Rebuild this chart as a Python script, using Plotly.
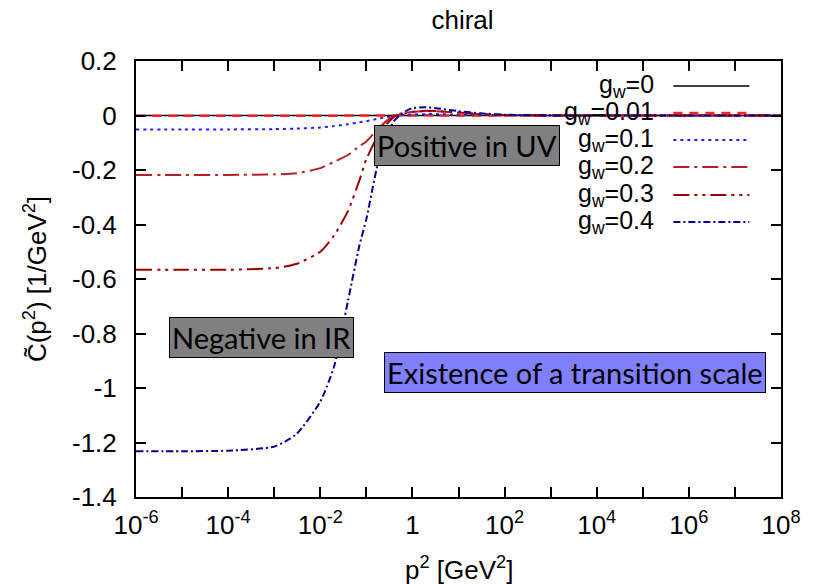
import plotly.graph_objects as go

# momentum grid p^2 [GeV^2]
p2 = [1e-6, 1e-5, 1e-4, 1e-3, 3e-3, 1e-2, 2e-2, 4e-2, 7e-2, 0.1, 0.2, 0.4, 0.7,
      1, 2, 4, 10, 30, 100, 1e3, 1e4, 1e6, 1e8]

# C~(p^2) for each coupling g_w
c_g000 = [0.0] * len(p2)
c_g001 = [-0.0006, -0.0006, -0.0006, -0.0006, -0.0006, -0.0005, -0.0005, -0.0004, -0.0003,
          -0.0002, -0.0001, 0.0, 0.0003, 0.0004, 0.0005, 0.0004, 0.0003, 0.0001, 0.0,
          0.0, 0.0, 0.0, 0.0]
c_g010 = [-0.051, -0.051, -0.051, -0.050, -0.048, -0.044, -0.039, -0.032, -0.025, -0.021,
          -0.010, -0.002, 0.002, 0.004, 0.005, 0.005, 0.003, 0.002, 0.001, 0.0, 0.0, 0.0, 0.0]
c_g020 = [-0.218, -0.218, -0.218, -0.216, -0.212, -0.193, -0.170, -0.145, -0.113, -0.095,
          -0.040, 0.000, 0.010, 0.013, 0.016, 0.015, 0.010, 0.005, 0.002, 0.0, 0.0, 0.0, 0.0]
c_g030 = [-0.566, -0.566, -0.566, -0.560, -0.545, -0.500, -0.440, -0.350, -0.240, -0.160,
          -0.060, -0.005, 0.008, 0.014, 0.017, 0.016, 0.011, 0.005, 0.002, 0.0, 0.0, 0.0, 0.0]
c_g040 = [-1.232, -1.232, -1.230, -1.215, -1.170, -1.050, -0.920, -0.680, -0.480, -0.380,
          -0.140, -0.020, 0.015, 0.027, 0.030, 0.025, 0.016, 0.008, 0.003, 0.0005, 0.0, 0.0, 0.0]

labels = ["0", "0.01", "0.1", "0.2", "0.3", "0.4"]
series = [c_g000, c_g001, c_g010, c_g020, c_g030, c_g040]
colors = ["#000000", "#ff2020", "#2020ff", "#b22222", "#9a0000", "#00008f"]
dashes = ["solid", "9px,7px", "3px,4px", "16px,5px,3px,5px",
          "16px,5px,3px,5px,3px,5px", "7px,3px,2px,3px"]
widths = [1.5, 2.5, 2, 2, 2, 2]

# x tick labels: every decade ticked, even decades labelled
x_tickvals = [10.0 ** k for k in range(-6, 9)]
x_ticktext = ["10<sup>-6</sup>", "", "10<sup>-4</sup>", "", "10<sup>-2</sup>", "", "1", "",
              "10<sup>2</sup>", "", "10<sup>4</sup>", "", "10<sup>6</sup>", "", "10<sup>8</sup>"]
y_tickvals = [0.2, 0.0, -0.2, -0.4, -0.6, -0.8, -1.0, -1.2, -1.4]
y_ticktext = ["0.2", "0", "-0.2", "-0.4", "-0.6", "-0.8", "-1", "-1.2", "-1.4"]

fig = go.Figure()
for lab, ys, col, dsh, w in zip(labels, series, colors, dashes, widths):
    fig.add_trace(go.Scatter(x=p2, y=ys, mode="lines", name="g_w=" + lab,
                             line=dict(color=col, dash=dsh, width=w, shape="spline", smoothing=0.6),
                             showlegend=False))

L, R, T, B = 136, 24, 61, 87
W, H = 813, 584
pw, ph = W - L - R, H - T - B


def px(x):
    return (x - L) / pw


def py(y):
    return (H - B - y) / ph


font_main = dict(family="Liberation Sans, Arial, sans-serif", size=26, color="black")
font_key = dict(family="Liberation Sans, Arial, sans-serif", size=25, color="black")
font_box = dict(family="Lato, sans-serif", size=29, color="black")

annotations = []
shapes = []
# key: text right-aligned, line sample to its right
key_y = [86, 113, 140, 167, 195, 222]
for lab, col, dsh, w, yy in zip(labels, colors, dashes, widths, key_y):
    annotations.append(dict(x=px(662), y=py(yy), xref="paper", yref="paper",
                            text="g<sub>w</sub>=" + lab, showarrow=False,
                            xanchor="right", yanchor="middle", font=font_key))
    shapes.append(dict(type="line", xref="paper", yref="paper",
                       x0=px(680), x1=px(757), y0=py(yy), y1=py(yy),
                       line=dict(color=col, dash=dsh, width=w)))

# text boxes
boxes = [("Positive in UV", 471.5, 145.5, "#808080"),
         ("Negative in IR", 263.5, 337.5, "#808080"),
         ("Existence of a transition scale", 580, 373, "#8080ff")]
for txt, bx, by, bg in boxes:
    annotations.append(dict(x=px(bx), y=py(by), xref="paper", yref="paper", text=txt,
                            showarrow=False, xanchor="center", yanchor="middle",
                            font=font_box, bgcolor=bg, bordercolor="#000000",
                            borderwidth=1, borderpad=2))

# x-axis title placed below the tick labels
annotations.append(dict(x=0.5, y=py(568), xref="paper", yref="paper",
                        text="p<sup>2</sup> [GeV<sup>2</sup>]", showarrow=False,
                        xanchor="center", yanchor="middle", font=font_main))

fig.update_layout(
    width=W, height=H,
    margin=dict(l=L, r=R, t=T, b=B),
    paper_bgcolor="white", plot_bgcolor="white",
    font=font_main,
    title=dict(text="chiral", x=462.5 / W, xanchor="center",
               y=1 - 20 / H, yanchor="middle", font=font_main),
    annotations=annotations, shapes=shapes,
)
fig.update_xaxes(type="log", range=[-6, 8], tickvals=x_tickvals, ticktext=x_ticktext,
                 ticks="inside", ticklen=10, tickwidth=1.5, tickcolor="black",
                 showline=True, linecolor="black", linewidth=2, mirror="allticks",
                 showgrid=False, zeroline=False, tickfont=font_main, ticklabelstandoff=4)
fig.update_yaxes(range=[-1.4, 0.2], tickvals=y_tickvals, ticktext=y_ticktext,
                 ticks="inside", ticklen=10, tickwidth=1.5, tickcolor="black",
                 showline=True, linecolor="black", linewidth=2, mirror="allticks",
                 showgrid=False, zeroline=False, tickfont=font_main, ticklabelstandoff=12,
                 title=dict(text="C\u0303(p<sup>2</sup>) [1/GeV<sup>2</sup>]", font=font_main,
                            standoff=18))

fig.write_html("out.html")
